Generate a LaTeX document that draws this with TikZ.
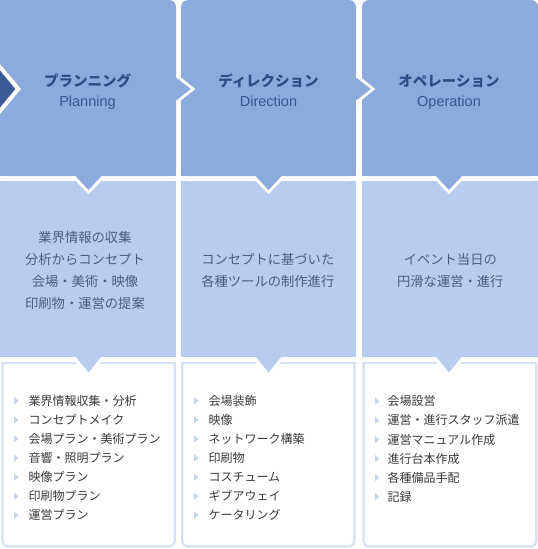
\documentclass[tikz,border=0pt]{standalone}
\usepackage{fontspec}
\newfontfamily\jp{Noto Sans CJK JP}
\newfontfamily\en{Liberation Sans}
\definecolor{topblue}{HTML}{8CABDC}
\definecolor{midblue}{HTML}{B8CDEE}
\definecolor{darkblue}{HTML}{3D5A98}
\definecolor{boxline}{HTML}{D5E1F3}
\definecolor{bulletcol}{HTML}{C6D5EE}
\definecolor{titlecol}{HTML}{2C4C86}
\definecolor{encol}{HTML}{35578F}
\definecolor{midtext}{HTML}{4A5C80}
\definecolor{itemtext}{HTML}{3A3A3A}
\begin{document}
\begin{tikzpicture}[x=1pt,y=-1pt,
  ttl/.style={font=\jp\bfseries\fontsize{14.5}{16}\selectfont, text=titlecol, anchor=base, inner sep=0},
  entl/.style={font=\en\fontsize{14.5}{16}\selectfont, text=encol, anchor=base, inner sep=0},
  midtxt/.style={font=\jp\fontsize{13.3}{15}\selectfont, text=midtext, anchor=base, inner sep=0},
  itm/.style={font=\jp\fontsize{12}{14}\selectfont, text=itemtext, anchor=base west, inner sep=0},
  bul/.style={fill=bulletcol},
  boxborder/.style={draw=boxline, line width=2.2pt},
]
\useasboundingbox (0,0) rectangle (538,549);
\fill[white] (0,0) rectangle (538,549);

% top band
\fill[topblue, rounded corners=7] (0,0) rectangle (176,176);
\fill[topblue] (0,0) rectangle (20,176);
\fill[topblue] (0,20) rectangle (176,176);
\fill[topblue, rounded corners=7] (181,0) rectangle (356,176);
\fill[topblue] (181,20) rectangle (356,176);
\fill[topblue, rounded corners=7] (362,0) rectangle (538,176);
\fill[topblue] (362,20) rectangle (538,176);

% second band
\fill[midblue] (0,180.5) rectangle (176,357);
\fill[midblue] (181,180.5) rectangle (356,357);
\fill[midblue] (362,180.5) rectangle (538,357);

% third band boxes
\begin{scope}
  \clip (0,362.8) rectangle (538,549);
  \draw[boxborder, rounded corners=6] (2.5,330) rectangle (174.7,546.5);
  \draw[boxborder, rounded corners=6] (182.2,330) rectangle (354.5,546.5);
  \draw[boxborder, rounded corners=6] (363.5,330) rectangle (536.3,546.5);
\end{scope}
\draw[boxborder, line cap=rect] (2.5,362.8) -- (174.7,362.8);
\draw[boxborder, line cap=rect] (182.2,362.8) -- (354.5,362.8);
\draw[boxborder, line cap=rect] (363.5,362.8) -- (536.3,362.8);

% down pointers: top -> second
\foreach \cx in {88.5,268.5,449}{
  \fill[white] (\cx-17.5,176) -- (\cx,194.2) -- (\cx+17.5,176) -- cycle;
  \fill[topblue] (\cx-13.5,175.5) -- (\cx,190) -- (\cx+13.5,175.5) -- cycle;
}
% down pointers: second -> third
\foreach \cx in {88.5,268.5,449}{
  \fill[white] (\cx-17,357) -- (\cx,376.8) -- (\cx+17,357) -- cycle;
  \fill[midblue] (\cx-13,356.5) -- (\cx,372.5) -- (\cx+13,356.5) -- cycle;
}
% chevrons between columns
\foreach \bx in {176,356}{
  \fill[white] (\bx,73.5) -- (\bx+19.3,89) -- (\bx,104.5) -- cycle;
  \fill[topblue] (\bx-0.5,77) -- (\bx+14.8,89) -- (\bx-0.5,101) -- cycle;
}
% left dark arrow
\fill[white] (0,64) -- (21,89) -- (0,114) -- cycle;
\fill[darkblue] (0,70.5) -- (15.3,89) -- (0,107.5) -- cycle;

% titles
\node[ttl] (t1) at (87.5,86) {プランニング};
\node[entl] (e1) at (87.5,106.5) {Planning};
\node[ttl] (t2) at (268.5,86) {ディレクション};
\node[entl] (e2) at (268.5,106.5) {Direction};
\node[ttl] (t3) at (449,86) {オペレーション};
\node[entl] (e3) at (449,106.5) {Operation};

% middle texts
\node[midtxt] (m11) at (85,242.3) {業界情報の収集};
\node[midtxt] (m12) at (85,264.5) {分析からコンセプト};
\node[midtxt] (m13) at (85,286.8) {会場・美術・映像};
\node[midtxt] (m14) at (85,308.9) {印刷物・運営の提案};
\node[midtxt] (m21) at (267.8,264.5) {コンセプトに基づいた};
\node[midtxt] (m22) at (267.8,286.8) {各種ツールの制作進行};
\node[midtxt] (m31) at (450.3,264.5) {イベント当日の};
\node[midtxt] (m32) at (450.3,286.8) {円滑な運営・進行};

% item lists
\foreach \t [count=\i] in {業界情報収集・分析,コンセプトメイク,会場プラン・美術プラン,音響・照明プラン,映像プラン,印刷物プラン,運営プラン}{
  \pgfmathsetmacro{\yy}{400.7+19.1*(\i-1)}
  \fill[bul] (14,\yy-3.6) -- (18.6,\yy) -- (14,\yy+3.6) -- cycle;
  \node[itm] (a\i) at (28.3,\yy+4.6) {\t};
}
\foreach \t [count=\i] in {会場装飾,映像,ネットワーク構築,印刷物,コスチューム,ギブアウェイ,ケータリング}{
  \pgfmathsetmacro{\yy}{400.7+19.1*(\i-1)}
  \fill[bul] (194,\yy-3.6) -- (198.6,\yy) -- (194,\yy+3.6) -- cycle;
  \node[itm] (b\i) at (208.3,\yy+4.6) {\t};
}
\foreach \t [count=\i] in {会場設営,運営・進行スタッフ派遣,運営マニュアル作成,進行台本作成,各種備品手配,記録}{
  \pgfmathsetmacro{\yy}{401.2+19.1*(\i-1)}
  \fill[bul] (375,\yy-3.6) -- (379.6,\yy) -- (375,\yy+3.6) -- cycle;
  \node[itm] (c\i) at (387.5,\yy+4.6) {\t};
}
\end{tikzpicture}
\end{document}
